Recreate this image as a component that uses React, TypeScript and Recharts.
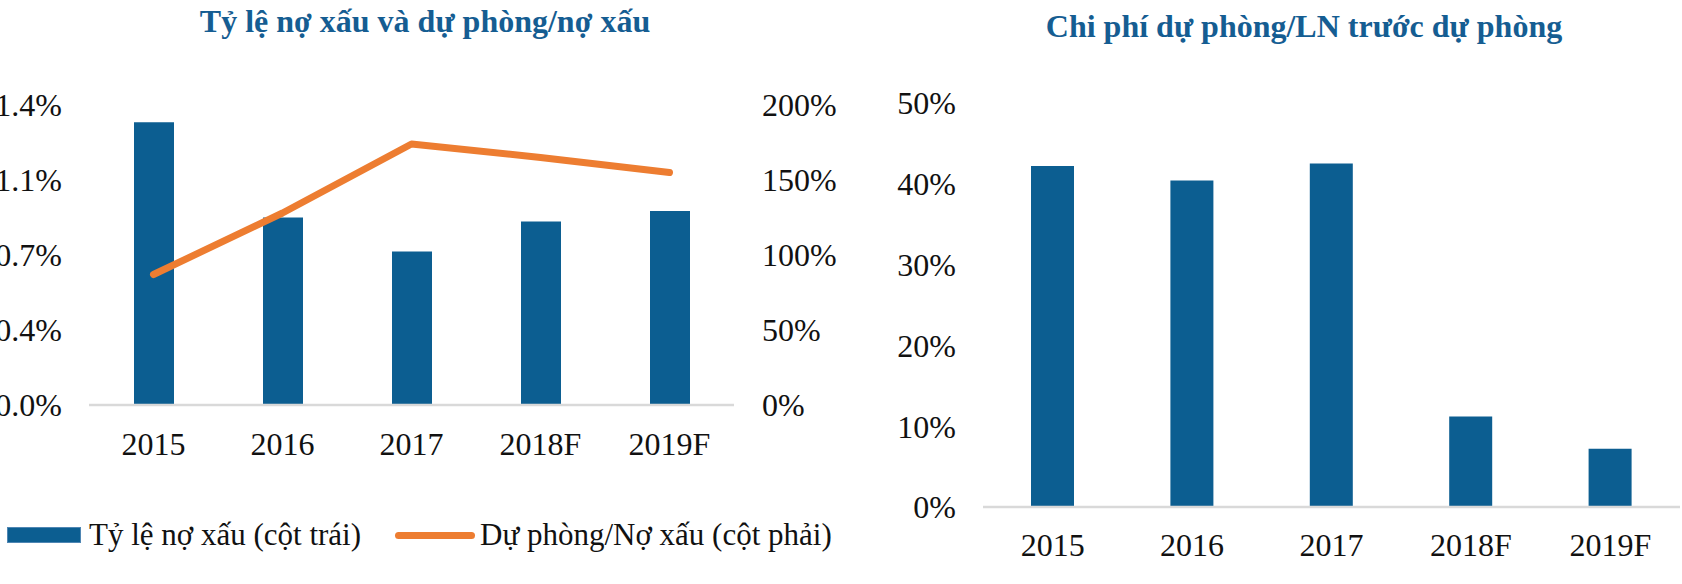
import React from 'react';
import {
  ComposedChart,
  BarChart,
  Bar,
  Line,
  XAxis,
  YAxis,
} from 'recharts';

// categories
const YEARS = ['2015', '2016', '2017', '2018F', '2019F'];

// left chart: NPL ratio (%) on left axis, provision/NPL (%) on right axis
const NPL_RATIO = [1.32, 0.875, 0.716, 0.856, 0.905];
const COVERAGE = [87, 128, 174, 165, 155];

// right chart: provision cost / pre-provision profit (%)
const PROVISION_COST = [42.2, 40.4, 42.5, 11.2, 7.2];

const NPL_TICKS = [0, 0.35, 0.7, 1.05, 1.4];
const NPL_TICK_LABELS = ['0.0%', '0.4%', '0.7%', '1.1%', '1.4%'];
const COVERAGE_TICKS = [0, 50, 100, 150, 200];
const COST_TICKS = [0, 10, 20, 30, 40, 50];

const LEFT_TITLE = 'Tỷ lệ nợ xấu và dự phòng/nợ xấu';
const RIGHT_TITLE = 'Chi phí dự phòng/LN trước dự phòng';
const LEGEND_BAR = 'Tỷ lệ nợ xấu (cột trái)';
const LEGEND_LINE = 'Dự phòng/Nợ xấu (cột phải)';

const BLUE = '#0c5e91';
const ORANGE = '#ed7d31';
const TITLE_COLOR = '#155d92';
const GRID = '#d9d9d9';
const FONT = '"Liberation Serif", "Times New Roman", serif';

const tickStyle = { fontSize: 32, fill: '#111', fontFamily: FONT };

const nplData = YEARS.map((year, i) => ({
  year,
  npl: NPL_RATIO[i],
  coverage: COVERAGE[i],
}));

const costData = YEARS.map((year, i) => ({
  year,
  cost: PROVISION_COST[i],
}));

function Title({ text, left, top, width }: { text: string; left: number; top: number; width: number }) {
  return (
    <div
      style={{
        position: 'absolute',
        left,
        top,
        width,
        textAlign: 'center',
        fontFamily: FONT,
        fontWeight: 'bold',
        fontSize: 32,
        lineHeight: '32px',
        color: TITLE_COLOR,
        whiteSpace: 'nowrap',
      }}
    >
      {text}
    </div>
  );
}

function LegendText({ text, left }: { text: string; left: number }) {
  return (
    <div
      style={{
        position: 'absolute',
        left,
        top: 519,
        fontFamily: FONT,
        fontSize: 31,
        lineHeight: '31px',
        color: '#111',
        whiteSpace: 'nowrap',
      }}
    >
      {text}
    </div>
  );
}

export default function App() {
  return (
    <div
      style={{
        position: 'absolute',
        left: 0,
        top: 0,
        width: 1682,
        height: 584,
        background: '#fff',
        overflow: 'hidden',
      }}
    >
      <Title text={LEFT_TITLE} left={0} top={5} width={850} />
      <Title text={RIGHT_TITLE} left={884} top={10} width={840} />

      <div style={{ position: 'absolute', left: 0, top: 0 }}>
        <ComposedChart
          width={841}
          height={584}
          data={nplData}
          margin={{ top: 105, right: 0, bottom: 119, left: 0 }}
        >
          <XAxis
            dataKey="year"
            height={60}
            tickLine={false}
            tickSize={0}
            tickMargin={27}
            axisLine={{ stroke: GRID, strokeWidth: 2.5 }}
            tick={tickStyle}
            interval={0}
          />
          <YAxis
            yAxisId="left"
            orientation="left"
            width={89}
            domain={[0, 1.4]}
            ticks={NPL_TICKS}
            tickFormatter={(v: number, i: number) => NPL_TICK_LABELS[i]}
            axisLine={false}
            tickLine={false}
            tickSize={0}
            tickMargin={27}
            tick={tickStyle}
            interval={0}
          />
          <YAxis
            yAxisId="right"
            orientation="right"
            width={107}
            domain={[0, 200]}
            ticks={COVERAGE_TICKS}
            tickFormatter={(v: number) => `${v}%`}
            axisLine={false}
            tickLine={false}
            tickSize={0}
            tickMargin={28}
            tick={{ ...tickStyle, textAnchor: 'start' }}
            interval={0}
          />
          <Bar
            yAxisId="left"
            dataKey="npl"
            fill={BLUE}
            barSize={40}
            isAnimationActive={false}
          />
          <Line
            yAxisId="right"
            dataKey="coverage"
            type="linear"
            stroke={ORANGE}
            strokeWidth={7}
            strokeLinecap="round"
            strokeLinejoin="round"
            dot={false}
            activeDot={false}
            isAnimationActive={false}
          />
        </ComposedChart>
      </div>

      {/* legend for the left chart */}
      <div
        style={{
          position: 'absolute',
          left: 7,
          top: 527,
          width: 74,
          height: 16,
          background: BLUE,
          boxSizing: 'border-box',
          border: '1px solid #4f86b3',
        }}
      />
      <LegendText text={LEGEND_BAR} left={89} />
      <div
        style={{
          position: 'absolute',
          left: 395,
          top: 531.5,
          width: 80,
          height: 7,
          borderRadius: 3.5,
          background: ORANGE,
        }}
      />
      <LegendText text={LEGEND_LINE} left={480} />

      <div style={{ position: 'absolute', left: 841, top: 0 }}>
        <BarChart
          width={841}
          height={584}
          data={costData}
          margin={{ top: 103, right: 2, bottom: 27, left: 0 }}
        >
          <XAxis
            dataKey="year"
            height={50}
            tickLine={false}
            tickSize={0}
            tickMargin={26}
            axisLine={{ stroke: GRID, strokeWidth: 2.5 }}
            tick={tickStyle}
            interval={0}
          />
          <YAxis
            width={142}
            domain={[0, 50]}
            ticks={COST_TICKS}
            tickFormatter={(v: number) => `${v}%`}
            axisLine={false}
            tickLine={false}
            tickSize={0}
            tickMargin={27}
            tick={tickStyle}
            interval={0}
          />
          <Bar dataKey="cost" fill={BLUE} barSize={43} isAnimationActive={false} />
        </BarChart>
      </div>
    </div>
  );
}
